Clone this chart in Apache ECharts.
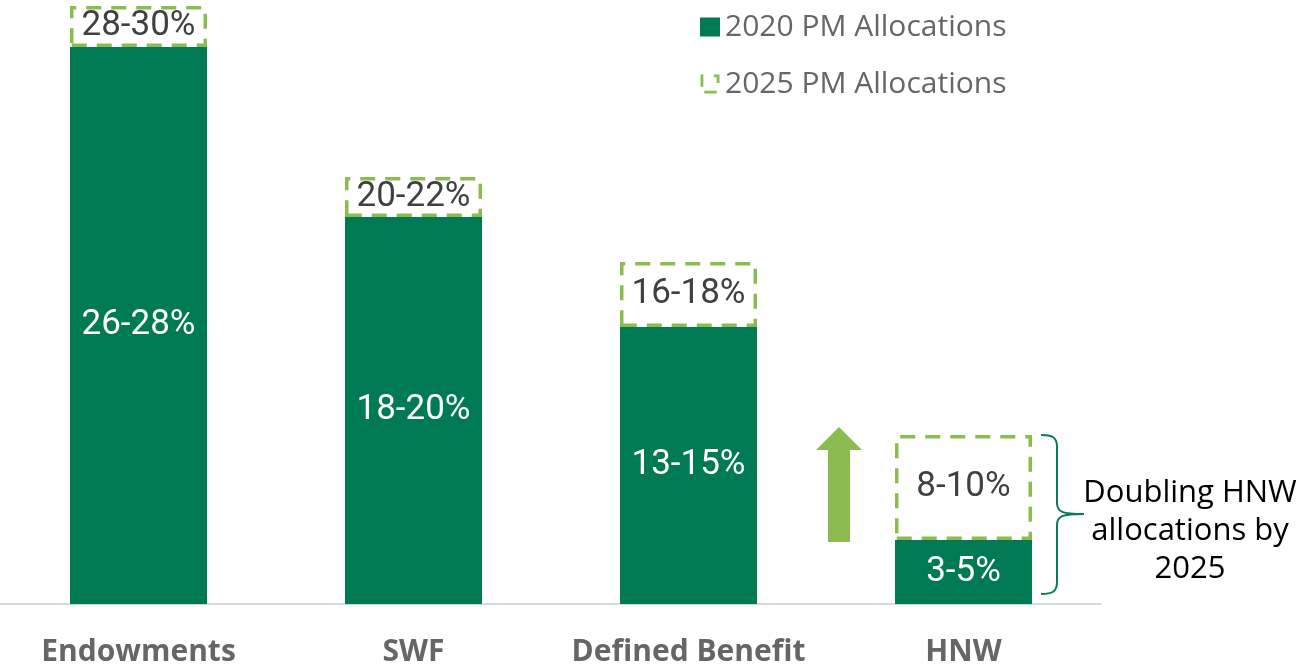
<!DOCTYPE html>
<html>
<head>
<meta charset="utf-8">
<script src="https://cdn.jsdelivr.net/npm/echarts@6/dist/echarts.min.js"></script>
<style>
html,body{margin:0;padding:0;background:#fff;}
#main{width:1298px;height:667px;}
</style>
</head>
<body>
<div id="main"></div>
<script>
var categories = ['Endowments', 'SWF', 'Defined Benefit', 'HNW'];
var alloc2020 = [27.85, 19.35, 13.85, 3.2];
var alloc2025Add = [2.05, 2.0, 3.25, 5.25];
var labels2020 = ['26-28%', '18-20%', '13-15%', '3-5%'];
var labels2025 = ['28-30%', '20-22%', '16-18%', '8-10%'];

var darkGreen = '#007a53';
var lightGreen = '#8cbb4f';
var braceColor = '#0f7a50';
// no condensed face installed, Roboto is the narrowest close match
var narrow = "Roboto, 'Noto Sans', sans-serif";

var myChart = echarts.init(document.getElementById('main'));
var option = {
    animation: false,
    grid: {left: 1, right: 197, top: 4, bottom: 63},
    legend: {
        orient: 'vertical',
        left: 695,
        top: 7,
        itemWidth: 20,
        itemHeight: 19,
        itemGap: 27,
        textStyle: {fontFamily: 'Open Sans', fontSize: 30, color: '#666666'},
        data: [
            {name: '2020 PM Allocations', icon: 'rect', itemStyle: {color: darkGreen, borderWidth: 0}},
            {name: '2025 PM Allocations', icon: 'path://M0,0 h3 v13 h-3z M14,0 h6 v9 h-3 v-6 h-3z M4,17 h13 v3 h-13z',
             itemStyle: {color: lightGreen, borderWidth: 0}}
        ]
    },
    xAxis: {
        type: 'category',
        data: categories,
        axisLine: {lineStyle: {color: '#d9d9d9', width: 2}},
        axisTick: {show: false},
        axisLabel: {interval: 0, margin: 33, fontFamily: 'Open Sans', fontWeight: 'bold', fontSize: 30, color: '#666666'}
    },
    yAxis: {
        type: 'value',
        min: 0,
        max: 30,
        show: false,
        splitLine: {show: false}
    },
    series: [
        {
            name: '2020 PM Allocations',
            type: 'bar',
            stack: 'pm',
            barWidth: 137,
            data: alloc2020,
            itemStyle: {color: darkGreen},
            label: {
                show: true,
                position: 'inside',
                fontFamily: narrow,
                fontSize: 35,
                color: '#ffffff',
                formatter: function (p) { return labels2020[p.dataIndex]; }
            }
        },
        {
            name: '2025 PM Allocations',
            type: 'bar',
            stack: 'pm',
            barWidth: 137,
            data: alloc2025Add,
            itemStyle: {
                color: 'rgba(255,255,255,0)',
                borderColor: lightGreen,
                borderWidth: 3.5,
                borderType: [15, 10]
            },
            label: {
                show: true,
                position: 'inside',
                fontFamily: narrow,
                fontSize: 35,
                color: '#404040',
                formatter: function (p) { return labels2025[p.dataIndex]; }
            }
        }
    ],
    graphic: [
        // growth arrow
        {
            type: 'polygon',
            shape: {points: [[839, 427], [862, 450], [850, 450], [850, 542], [828, 542], [828, 450], [816, 450]]},
            style: {fill: lightGreen}
        },
        // brace round the HNW bar
        {type: 'bezierCurve', shape: {x1: 1041, y1: 435, cpx1: 1052, cpy1: 435, cpx2: 1057, cpy2: 437, x2: 1057, y2: 447}, style: {stroke: braceColor, lineWidth: 2, fill: null}},
        {type: 'line', shape: {x1: 1057, y1: 447, x2: 1057, y2: 503}, style: {stroke: braceColor, lineWidth: 2}},
        {type: 'bezierCurve', shape: {x1: 1057, y1: 503, cpx1: 1057, cpy1: 512, cpx2: 1062, cpy2: 514, x2: 1084, y2: 514}, style: {stroke: braceColor, lineWidth: 2, fill: null}},
        {type: 'bezierCurve', shape: {x1: 1084, y1: 514, cpx1: 1062, cpy1: 514, cpx2: 1057, cpy2: 516, x2: 1057, y2: 525}, style: {stroke: braceColor, lineWidth: 2, fill: null}},
        {type: 'line', shape: {x1: 1057, y1: 525, x2: 1057, y2: 582}, style: {stroke: braceColor, lineWidth: 2}},
        {type: 'bezierCurve', shape: {x1: 1057, y1: 582, cpx1: 1057, cpy1: 592, cpx2: 1052, cpy2: 594, x2: 1041, y2: 594}, style: {stroke: braceColor, lineWidth: 2, fill: null}},
        {
            type: 'text',
            x: 1190,
            y: 474,
            style: {
                text: 'Doubling HNW\nallocations by\n2025',
                fill: '#000000',
                fontFamily: 'Open Sans',
                fontSize: 31,
                lineHeight: 38,
                align: 'center',
                verticalAlign: 'top'
            }
        }
    ]
};
myChart.setOption(option);
</script>
</body>
</html>
